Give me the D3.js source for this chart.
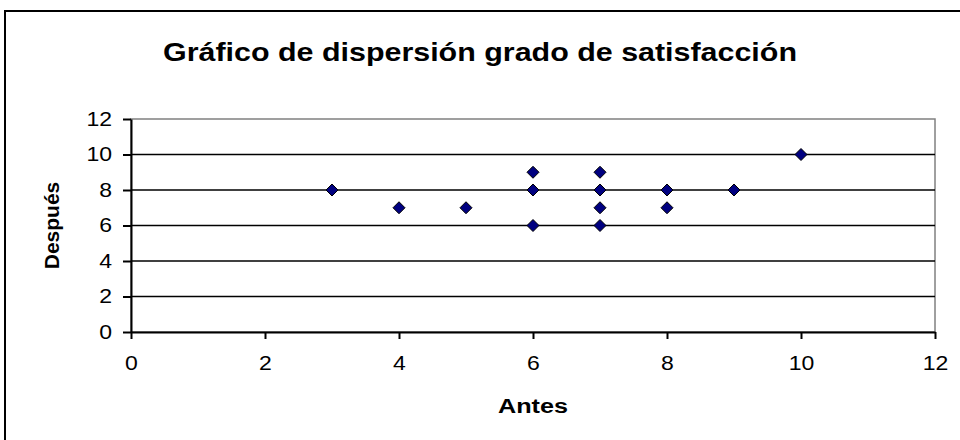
<!DOCTYPE html>
<html>
<head>
<meta charset="utf-8">
<script src="https://cdn.jsdelivr.net/npm/d3@7"></script>
<style>
  html, body { margin: 0; padding: 0; background: #fff; }
  svg { display: block; }
  text { font-family: "Liberation Sans", Arial, sans-serif; fill: #000; }
</style>
</head>
<body>
<svg id="chart" width="960" height="440"></svg>
<script>
const titleText = "Gráfico de dispersión grado de satisfacción";
const xTitle = "Antes";
const yTitle = "Después";
const antes   = [3, 4, 5, 6, 6, 6, 7, 7, 7, 7, 8, 8, 9, 10];
const despues = [8, 7, 7, 9, 8, 6, 9, 8, 7, 6, 8, 7, 8, 10];
const xTicks = [0, 2, 4, 6, 8, 10, 12];
const yTicks = [0, 2, 4, 6, 8, 10, 12];

const svg = d3.select("#chart");
const W = 960, H = 440;
const plot = { left: 131, right: 935, top: 119, bottom: 332 };

function stretch(sel, factor) {
  sel.each(function () {
    const len = this.getComputedTextLength();
    d3.select(this).attr("textLength", len * factor).attr("lengthAdjust", "spacingAndGlyphs");
  });
}

// outer chart border
svg.append("rect")
  .attr("x", 5).attr("y", 11)
  .attr("width", W).attr("height", H)
  .attr("fill", "#fff").attr("stroke", "#000").attr("stroke-width", 2);

const x = d3.scaleLinear().domain([0, 12]).range([plot.left, plot.right]);
const y = d3.scaleLinear().domain([0, 12]).range([plot.bottom, plot.top]);

// plot area border (grey)
svg.append("rect")
  .attr("x", plot.left).attr("y", plot.top)
  .attr("width", plot.right - plot.left).attr("height", plot.bottom - plot.top)
  .attr("fill", "#fff").attr("stroke", "#808080").attr("stroke-width", 1.5);

// gridlines
svg.append("g").selectAll("line")
  .data(yTicks.filter(d => d > 0 && d < 12))
  .join("line")
  .attr("x1", plot.left).attr("x2", plot.right)
  .attr("y1", d => y(d)).attr("y2", d => y(d))
  .attr("stroke", "#000").attr("stroke-width", 1.4);

// axes
const yAxis = svg.append("g")
  .attr("transform", `translate(${plot.left},0)`)
  .call(d3.axisLeft(y).tickValues(yTicks).tickSize(8).tickPadding(11).tickSizeOuter(0));
const xAxis = svg.append("g")
  .attr("transform", `translate(0,${plot.bottom})`)
  .call(d3.axisBottom(x).tickValues(xTicks).tickSize(7).tickPadding(17).tickSizeOuter(0));

[yAxis, xAxis].forEach(g => {
  g.select(".domain").attr("stroke", "#000").attr("stroke-width", 2);
  g.selectAll(".tick line").attr("stroke", "#000").attr("stroke-width", 2);
  g.selectAll(".tick text")
    .attr("font-family", '"Liberation Sans", Arial, sans-serif')
    .attr("font-size", 20).attr("fill", "#000");
  stretch(g.selectAll(".tick text"), 1.15);
});

// points
const pts = antes.map((a, i) => ({ a, d: despues[i] }));
const diamond = "M0,-6L6,0L0,6L-6,0Z";
svg.append("g").selectAll("path")
  .data(pts)
  .join("path")
  .attr("d", diamond)
  .attr("transform", p => `translate(${x(p.a)},${y(p.d)})`)
  .attr("fill", "#000080").attr("stroke", "#000").attr("stroke-width", 1);

// titles
const t = svg.append("text")
  .attr("x", 480).attr("y", 61)
  .attr("text-anchor", "middle")
  .attr("font-size", 25).attr("font-weight", "bold")
  .text(titleText);
t.attr("textLength", 634).attr("lengthAdjust", "spacingAndGlyphs");

const xt = svg.append("text")
  .attr("x", 533).attr("y", 413)
  .attr("text-anchor", "middle")
  .attr("font-size", 20).attr("font-weight", "bold")
  .text(xTitle);
xt.attr("textLength", 70).attr("lengthAdjust", "spacingAndGlyphs");

const yt = svg.append("text")
  .attr("transform", `translate(59,${(plot.top + plot.bottom) / 2}) rotate(-90)`)
  .attr("text-anchor", "middle")
  .attr("font-size", 20).attr("font-weight", "bold")
  .text(yTitle);
stretch(yt, 1.05);
</script>
</body>
</html>
